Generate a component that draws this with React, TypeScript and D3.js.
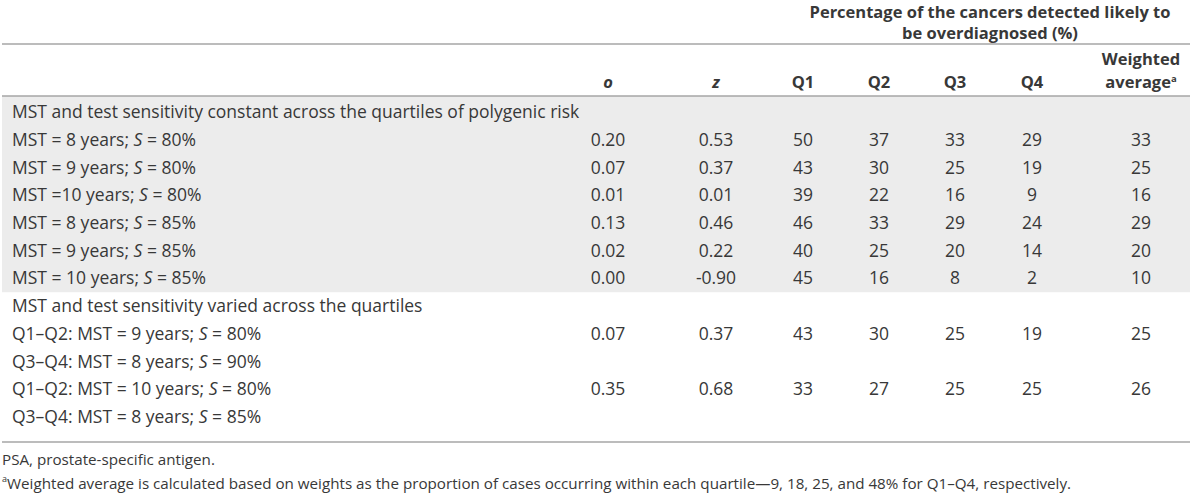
import React from "react";
import * as d3 from "d3";

// ---------- data ----------
const superHeader = ["Percentage of the cancers detected likely to", "be overdiagnosed (%)"];
const columnKeys = ["o", "z", "Q1", "Q2", "Q3", "Q4", "WA"];
const columnHeaders = ["o", "z", "Q1", "Q2", "Q3", "Q4", "Weighted|average"];

const group1Title = "MST and test sensitivity constant across the quartiles of polygenic risk";
const group1Labels = [
  ["MST = 8 years; ", "80%"],
  ["MST = 9 years; ", "80%"],
  ["MST =10 years; ", "80%"],
  ["MST = 8 years; ", "85%"],
  ["MST = 9 years; ", "85%"],
  ["MST = 10 years; ", "85%"],
];
const group1Values = [
  ["0.20", "0.53", "50", "37", "33", "29", "33"],
  ["0.07", "0.37", "43", "30", "25", "19", "25"],
  ["0.01", "0.01", "39", "22", "16", "9", "16"],
  ["0.13", "0.46", "46", "33", "29", "24", "29"],
  ["0.02", "0.22", "40", "25", "20", "14", "20"],
  ["0.00", "-0.90", "45", "16", "8", "2", "10"],
];

const group2Title = "MST and test sensitivity varied across the quartiles";
const group2Labels = [
  ["Q1\u2013Q2: MST = 9 years; ", "80%"],
  ["Q3\u2013Q4: MST = 8 years; ", "90%"],
  ["Q1\u2013Q2: MST = 10 years; ", "80%"],
  ["Q3\u2013Q4: MST = 8 years; ", "85%"],
];
const group2Values = [
  ["0.07", "0.37", "43", "30", "25", "19", "25"],
  [],
  ["0.35", "0.68", "33", "27", "25", "25", "26"],
  [],
];

const footnote1 = "PSA, prostate-specific antigen.";
const footnote2 =
  "Weighted average is calculated based on weights as the proportion of cases occurring within each quartile\u20149, 18, 25, and 48% for Q1\u2013Q4, respectively.";

// ---------- layout ----------
const W = 1200;
const H = 495;
const FONT = "'Open Sans', 'Noto Sans', sans-serif";
const TEXT = "#383838";
const RULE = "#a6a6a6";
const BAND = "#ececec";
const BODY_SIZE = 17.5;
const HEAD_SIZE = 16.5;
const NOTE_SIZE = 15.2;

type Row = { kind: "title" | "data"; title?: string; label?: string[]; values?: string[]; group: number };

const rows: Row[] = [
  { kind: "title", title: group1Title, group: 1 },
  ...group1Labels.map((l, i) => ({ kind: "data" as const, label: l, values: group1Values[i], group: 1 })),
  { kind: "title", title: group2Title, group: 2 },
  ...group2Labels.map((l, i) => ({ kind: "data" as const, label: l, values: group2Values[i], group: 2 })),
];

export default function App() {
  const y = d3.scaleLinear().domain([0, rows.length - 1]).range([112, 417]);
  const step = y(1) - y(0);
  const x = d3
    .scaleOrdinal<string, number>()
    .domain(columnKeys)
    .range([608, 716, 803, 879, 955, 1032, 1141]);
  const left = 2;
  const right = 1190;
  const textX = 12;
  const g1Count = group1Labels.length + 1;
  const bandTop = 96;
  const bandBottom = y(g1Count - 1) + step / 2;

  return (
    <div style={{ position: "absolute", left: 0, top: 0, width: W, height: H, background: "#fff" }}>
      <svg width={W} height={H} style={{ display: "block", fontFamily: FONT }}>
        <rect x={0} y={0} width={W} height={H} fill="#fff" />
        {/* grey band for group 1 */}
        <rect x={left} y={bandTop} width={right - left} height={bandBottom - bandTop} fill={BAND} />

        {/* super header */}
        {superHeader.map((t, i) => (
          <text
            key={"sh" + i}
            x={990}
            y={12 + i * 21}
            dy="0.35em"
            textAnchor="middle"
            fontWeight={700}
            fontSize={HEAD_SIZE}
            fill={TEXT}
          >
            {t}
          </text>
        ))}

        {/* rules */}
        <line x1={left} x2={right} y1={44} y2={44} stroke={RULE} strokeWidth={1.5} />
        <line x1={left} x2={right} y1={96} y2={96} stroke={RULE} strokeWidth={1.5} />
        <line x1={left} x2={right} y1={442} y2={442} stroke={RULE} strokeWidth={1.5} />

        {/* column headers */}
        {columnKeys.map((k, i) => {
          const h = columnHeaders[i];
          if (h.includes("|")) {
            const [a, b] = h.split("|");
            return (
              <g key={k} fontWeight={700} fontSize={HEAD_SIZE} fill={TEXT}>
                <text x={x(k)} y={59} dy="0.35em" textAnchor="middle">
                  {a}
                </text>
                <text x={x(k)} y={82} dy="0.35em" textAnchor="middle">
                  {b}
                  <tspan fontSize={9.5} dy="-0.6em">a</tspan>
                </text>
              </g>
            );
          }
          const italic = k === "o" || k === "z";
          return (
            <text
              key={k}
              x={x(k)}
              y={82}
              dy="0.35em"
              textAnchor="middle"
              fontWeight={700}
              fontStyle={italic ? "italic" : "normal"}
              fontSize={HEAD_SIZE}
              fill={TEXT}
            >
              {h}
            </text>
          );
        })}

        {/* body rows */}
        {rows.map((r, i) => {
          const yy = y(i);
          if (r.kind === "title") {
            return (
              <text key={"r" + i} x={textX} y={yy} dy="0.35em" fontSize={BODY_SIZE} fill={TEXT}>
                {r.title}
              </text>
            );
          }
          return (
            <g key={"r" + i} fontSize={BODY_SIZE} fill={TEXT}>
              <text x={textX} y={yy} dy="0.35em">
                {r.label![0]}
                <tspan fontStyle="italic">S</tspan>
                {" = " + r.label![1]}
              </text>
              {r.values!.map((v, j) => (
                <text key={j} x={x(columnKeys[j])} y={yy} dy="0.35em" textAnchor="middle">
                  {v}
                </text>
              ))}
            </g>
          );
        })}

        {/* footnotes */}
        <text x={2} y={460} dy="0.35em" fontSize={NOTE_SIZE} fill={TEXT}>
          {footnote1}
        </text>
        <text x={2} y={486} dy="0.35em" fontSize={NOTE_SIZE} fill={TEXT}>
          <tspan fontSize={9} dy="-0.5em">a</tspan>
          <tspan dy="0.5em">{footnote2}</tspan>
        </text>
      </svg>
    </div>
  );
}
